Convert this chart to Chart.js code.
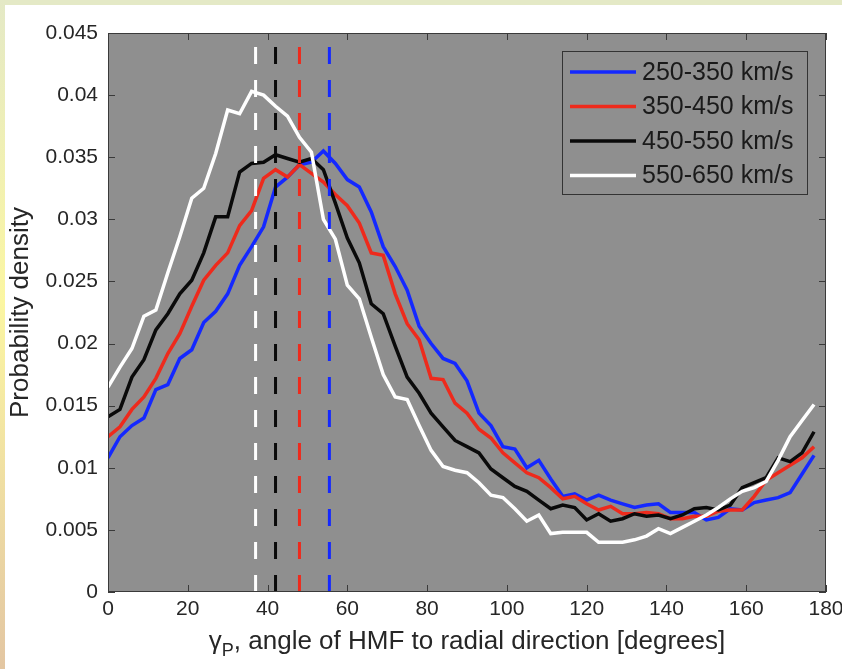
<!DOCTYPE html>
<html>
<head>
<meta charset="utf-8">
<script src="https://cdn.jsdelivr.net/npm/chart.js@4.4.1/dist/chart.umd.min.js"></script>
<style>
  html, body { margin: 0; padding: 0; background: #fff; }
  canvas { display: block; }
</style>
</head>
<body>
<canvas id="chart" width="842" height="669"></canvas>
<script>
// 角度 (degrees), 3 度一格
const angles = [0, 3, 6, 9, 12, 15, 18, 21, 24, 27, 30, 33, 36, 39, 42, 45, 48, 51, 54, 57,
    60, 63, 66, 69, 72, 75, 78, 81, 84, 87, 90, 93, 96, 99, 102, 105, 108, 111, 114, 117,
    120, 123, 126, 129, 132, 135, 138, 141, 144, 147, 150, 153, 156, 159, 162, 165, 168, 171, 174, 177];

const labels = ['250-350 km/s', '350-450 km/s', '450-550 km/s', '550-650 km/s'];
const colors = ['#1428ff', '#ee2a1c', '#0a0a0a', '#ffffff'];

const blue = [0.0108, 0.0125, 0.0134, 0.0140, 0.0163, 0.0167, 0.0188, 0.0195, 0.0217, 0.0226,
    0.0240, 0.0263, 0.0278, 0.0294, 0.0326, 0.0334, 0.0344, 0.0346, 0.0355, 0.0345,
    0.0332, 0.0326, 0.0306, 0.0278, 0.0262, 0.0243, 0.0214, 0.0200, 0.0188, 0.0184,
    0.0170, 0.0144, 0.0134, 0.0117, 0.0115, 0.0100, 0.0106, 0.0091, 0.0077, 0.0079,
    0.0074, 0.0078, 0.0074, 0.0071, 0.0068, 0.0070, 0.0071, 0.0064, 0.0064, 0.0064,
    0.0058, 0.0060, 0.0067, 0.0066, 0.0072, 0.0074, 0.0076, 0.0080, 0.0095, 0.0110];

const red = [0.0125, 0.0133, 0.0147, 0.0157, 0.0172, 0.0192, 0.0208, 0.0230, 0.0251, 0.0263,
    0.0273, 0.0295, 0.0307, 0.0333, 0.0340, 0.0334, 0.0344, 0.0337, 0.0330, 0.0320,
    0.0311, 0.0297, 0.0273, 0.0271, 0.0240, 0.0216, 0.0203, 0.0172, 0.0171, 0.0152,
    0.0144, 0.0131, 0.0124, 0.0112, 0.0104, 0.0096, 0.0092, 0.0084, 0.0075, 0.0077,
    0.0071, 0.0066, 0.0069, 0.0063, 0.0063, 0.0064, 0.0063, 0.0059, 0.0059, 0.0061,
    0.0061, 0.0065, 0.0066, 0.0066, 0.0077, 0.0090, 0.0096, 0.0102, 0.0108, 0.0117];

const black = [0.0141, 0.0147, 0.0173, 0.0187, 0.0211, 0.0224, 0.0240, 0.0251, 0.0273, 0.0302,
    0.0302, 0.0338, 0.0345, 0.0346, 0.0352, 0.0349, 0.0346, 0.0349, 0.0340, 0.0313,
    0.0285, 0.0265, 0.0232, 0.0224, 0.0198, 0.0173, 0.0160, 0.0144, 0.0133, 0.0122,
    0.0117, 0.0112, 0.0099, 0.0092, 0.0085, 0.0081, 0.0074, 0.0067, 0.0070, 0.0068,
    0.0058, 0.0063, 0.0057, 0.0059, 0.0063, 0.0061, 0.0062, 0.0059, 0.0062, 0.0067,
    0.0068, 0.0066, 0.0070, 0.0084, 0.0088, 0.0092, 0.0108, 0.0105, 0.0112, 0.0129];

const white = [0.0165, 0.0181, 0.0196, 0.0222, 0.0227, 0.0257, 0.0286, 0.0317, 0.0325, 0.0353,
    0.0388, 0.0385, 0.0403, 0.0400, 0.0391, 0.0383, 0.0366, 0.0354, 0.0300, 0.0284,
    0.0247, 0.0236, 0.0205, 0.0175, 0.0157, 0.0155, 0.0134, 0.0114, 0.0101, 0.0098,
    0.0096, 0.0088, 0.0078, 0.0076, 0.0067, 0.0057, 0.0062, 0.0047, 0.0048, 0.0048,
    0.0048, 0.0040, 0.0040, 0.0040, 0.0042, 0.0045, 0.0051, 0.0047, 0.0052, 0.0057,
    0.0062, 0.0068, 0.0075, 0.0081, 0.0084, 0.0089, 0.0106, 0.0125, 0.0138, 0.0151];

// 各速度段的平均角度 (虚线)
const means = [55.5, 48, 42, 37];

const xTicks = [0, 20, 40, 60, 80, 100, 120, 140, 160, 180];
const yTicks = [0, 0.005, 0.01, 0.015, 0.02, 0.025, 0.03, 0.035, 0.04, 0.045];

const series = [blue, red, black, white];
const FONT = '"Liberation Sans", Arial, Helvetica, sans-serif';

const datasets = [];
series.forEach((s, i) => {
    datasets.push({
        label: labels[i],
        data: angles.map((a, j) => ({ x: a, y: s[j] })),
        borderColor: colors[i],
        borderWidth: 3.5,
        pointRadius: 0,
        tension: 0,
        order: 4 - i + 1
    });
});
means.forEach((m, i) => {
    datasets.push({
        label: labels[i] + ' mean',
        isMean: true,
        data: [{ x: m, y: yTicks[0] }, { x: m, y: yTicks[yTicks.length - 1] }],
        borderColor: colors[i],
        borderWidth: 3,
        borderDash: [17, 16],
        borderCapStyle: 'butt',
        pointRadius: 0,
        order: 0
    });
});

// 背景, 边框, 刻度, 图例, x 轴标题
const matlabLook = {
    id: 'matlabLook',
    beforeDraw(chart) {
        const ctx = chart.ctx, a = chart.chartArea;
        ctx.save();
        ctx.fillStyle = '#ffffff';
        ctx.fillRect(0, 0, chart.width, chart.height);
        ctx.fillStyle = '#e4e9c6';
        ctx.fillRect(0, 0, chart.width, 5);
        const g = ctx.createLinearGradient(0, 0, 0, chart.height);
        g.addColorStop(0, '#e4e9c6');
        g.addColorStop(0.45, '#fbf6a2');
        g.addColorStop(1, '#e3c6a2');
        ctx.fillStyle = g;
        ctx.fillRect(0, 0, 5, chart.height);
        ctx.fillStyle = '#8f8f8f';
        ctx.fillRect(a.left, a.top, a.right - a.left, a.bottom - a.top);
        ctx.restore();
    },
    afterDatasetsDraw(chart) {
        const ctx = chart.ctx, a = chart.chartArea;
        const xs = chart.scales.x, ys = chart.scales.y;
        ctx.save();
        ctx.strokeStyle = '#3a3a3a';
        ctx.lineWidth = 1;
        ctx.strokeRect(a.left + 0.5, a.top + 0.5, a.right - a.left - 1, a.bottom - a.top - 1);
        ctx.beginPath();
        xTicks.forEach(v => {
            const px = Math.round(xs.getPixelForValue(v)) + 0.5;
            ctx.moveTo(px, a.bottom); ctx.lineTo(px, a.bottom - 7);
            ctx.moveTo(px, a.top); ctx.lineTo(px, a.top + 7);
        });
        yTicks.forEach(v => {
            const py = Math.round(ys.getPixelForValue(v)) + 0.5;
            ctx.moveTo(a.left, py); ctx.lineTo(a.left + 7, py);
            ctx.moveTo(a.right, py); ctx.lineTo(a.right - 7, py);
        });
        ctx.stroke();

        // 图例
        const bx = a.right - 264, by = a.top + 18, bw = 246, bh = 144;
        ctx.fillStyle = '#8f8f8f';
        ctx.fillRect(bx, by, bw, bh);
        ctx.strokeStyle = '#333333';
        ctx.strokeRect(bx + 0.5, by + 0.5, bw - 1, bh - 1);
        const items = chart.data.datasets.filter(d => !d.isMean);
        ctx.font = '25px ' + FONT;
        ctx.textBaseline = 'middle';
        ctx.textAlign = 'left';
        items.forEach((d, i) => {
            const yy = by + 21 + i * 34.5;
            ctx.strokeStyle = d.borderColor;
            ctx.lineWidth = 3.5;
            ctx.beginPath();
            ctx.moveTo(bx + 8, yy); ctx.lineTo(bx + 74, yy);
            ctx.stroke();
            ctx.fillStyle = '#1a1a1a';
            ctx.fillText(d.label, bx + 80, yy + 1);
        });

        // x 轴标题 (带下标)
        const cx = (a.left + a.right) / 2, base = a.bottom + 57;
        const big = '26px ' + FONT, small = '18px ' + FONT;
        const t1 = 'γ', t2 = 'P', t3 = ', angle of HMF to radial direction [degrees]';
        ctx.font = big;
        const w1 = ctx.measureText(t1).width, w3 = ctx.measureText(t3).width;
        ctx.font = small;
        const w2 = ctx.measureText(t2).width;
        let x0 = cx - (w1 + w2 + w3) / 2;
        ctx.fillStyle = '#262626';
        ctx.textBaseline = 'alphabetic';
        ctx.font = big; ctx.fillText(t1, x0, base);
        ctx.font = small; ctx.fillText(t2, x0 + w1, base + 7);
        ctx.font = big; ctx.fillText(t3, x0 + w1 + w2, base);
        ctx.restore();
    }
};

new Chart(document.getElementById('chart'), {
    type: 'line',
    data: { datasets: datasets },
    plugins: [matlabLook],
    options: {
        responsive: false,
        animation: false,
        devicePixelRatio: 1,
        layout: { padding: { top: 33, right: 16, left: 0, bottom: 0 } },
        plugins: { legend: { display: false }, tooltip: { enabled: false } },
        scales: {
            x: {
                type: 'linear',
                min: 0,
                max: 180,
                afterBuildTicks: s => { s.ticks = xTicks.map(v => ({ value: v })); },
                afterFit: s => { s.height = 77; s.paddingLeft = 0; s.paddingRight = 0; },
                grid: { display: false, drawTicks: false, tickLength: 0 },
                border: { display: false },
                ticks: { font: { size: 21, family: FONT }, color: '#262626', padding: 5, maxRotation: 0 }
            },
            y: {
                type: 'linear',
                min: 0,
                max: 0.045,
                afterBuildTicks: s => { s.ticks = yTicks.map(v => ({ value: v })); },
                afterFit: s => { s.width = 108; s.paddingTop = 0; s.paddingBottom = 0; },
                grid: { display: false, drawTicks: false, tickLength: 0 },
                border: { display: false },
                ticks: {
                    font: { size: 21, family: FONT },
                    color: '#262626',
                    padding: 10,
                    callback: v => String(+v.toFixed(3))
                },
                title: {
                    display: true,
                    text: 'Probability density',
                    font: { size: 26, family: FONT },
                    color: '#262626',
                    padding: { top: 5, bottom: 0 }
                }
            }
        }
    }
});
</script>
</body>
</html>
